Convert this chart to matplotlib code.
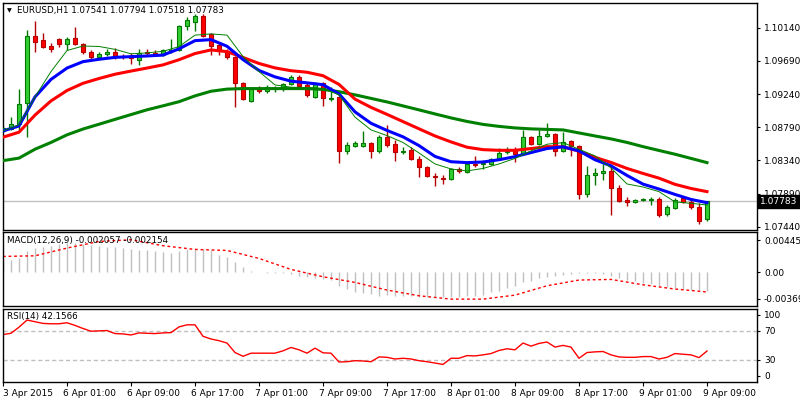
import numpy as np
import pandas as pd
import matplotlib
matplotlib.use("Agg")
import matplotlib.pyplot as plt
import matplotlib.transforms as mtransforms

# EURUSD H1 candles, 3 Apr 17:00 .. 9 Apr 09:00
open_ = [1.08740, 1.08768, 1.08836, 1.09121, 1.10031, 1.09977, 1.09895, 1.09990, 1.09923, 1.10004,
         1.09923, 1.09814, 1.09746, 1.09787, 1.09814, 1.09760, 1.09746, 1.09705, 1.09814, 1.09800,
         1.09773, 1.09827, 1.09841, 1.10167, 1.10222, 1.10303, 1.10058, 1.09909, 1.09827, 1.09746,
         1.09393, 1.09148, 1.09325, 1.09284, 1.09311, 1.09311, 1.09379, 1.09474, 1.09365, 1.09202,
         1.09393, 1.09175, 1.09202, 1.08469, 1.08537, 1.08537, 1.08577, 1.08469, 1.08659, 1.08564,
         1.08455, 1.08482, 1.08360, 1.08251, 1.08129, 1.08102, 1.08088, 1.08224, 1.08183, 1.08292,
         1.08292, 1.08292, 1.08360, 1.08455, 1.08482, 1.08428, 1.08659, 1.08564, 1.08672, 1.08700,
         1.08469, 1.08605, 1.08537, 1.07884, 1.08143, 1.08170, 1.08197, 1.07966, 1.07803, 1.07776,
         1.07803, 1.07803, 1.07816, 1.07613, 1.07694, 1.07830, 1.07776, 1.07708, 1.07541]
high = [1.08808, 1.08931, 1.09311, 1.10113, 1.10235, 1.10072, 1.09936, 1.10004, 1.10018, 1.10154,
        1.09936, 1.09841, 1.09814, 1.09855, 1.09868, 1.09787, 1.09800, 1.09855, 1.09855, 1.09841,
        1.09855, 1.09990, 1.10181, 1.10289, 1.10330, 1.10330, 1.10072, 1.09936, 1.09855, 1.09760,
        1.09406, 1.09338, 1.09352, 1.09365, 1.09352, 1.09393, 1.09501, 1.09501, 1.09393, 1.09406,
        1.09406, 1.09338, 1.09216, 1.08591, 1.08605, 1.08740, 1.08591, 1.08686, 1.08822, 1.08618,
        1.08523, 1.08523, 1.08401, 1.08265, 1.08170, 1.08143, 1.08238, 1.08251, 1.08333, 1.08401,
        1.08346, 1.08374, 1.08509, 1.08523, 1.08523, 1.08754, 1.08672, 1.08754, 1.08849, 1.08713,
        1.08727, 1.08618, 1.08550, 1.08265, 1.08238, 1.08292, 1.08251, 1.08007, 1.07844, 1.07816,
        1.07830, 1.07844, 1.07844, 1.07735, 1.07830, 1.07857, 1.07803, 1.07762, 1.07794]
low = [1.08727, 1.08754, 1.08754, 1.08659, 1.09814, 1.09868, 1.09814, 1.09882, 1.09841, 1.09909,
       1.09787, 1.09692, 1.09719, 1.09760, 1.09719, 1.09719, 1.09651, 1.09637, 1.09773, 1.09760,
       1.09760, 1.09800, 1.09827, 1.10113, 1.10099, 1.10018, 1.09773, 1.09773, 1.09719, 1.09067,
       1.09162, 1.09134, 1.09257, 1.09257, 1.09270, 1.09284, 1.09365, 1.09338, 1.09202, 1.09189,
       1.09080, 1.09148, 1.08306, 1.08428, 1.08523, 1.08523, 1.08374, 1.08441, 1.08523, 1.08333,
       1.08428, 1.08346, 1.08115, 1.08115, 1.07993, 1.08020, 1.08075, 1.08170, 1.08170, 1.08251,
       1.08224, 1.08278, 1.08346, 1.08428, 1.08319, 1.08414, 1.08550, 1.08550, 1.08659, 1.08401,
       1.08455, 1.08401, 1.07816, 1.07844, 1.08007, 1.08075, 1.07599, 1.07776, 1.07721, 1.07762,
       1.07789, 1.07735, 1.07572, 1.07585, 1.07681, 1.07762, 1.07681, 1.07477, 1.07518]
close = [1.08781, 1.08836, 1.09107, 1.10031, 1.09950, 1.09882, 1.09855, 1.09923, 1.09990, 1.09923,
         1.09814, 1.09746, 1.09787, 1.09814, 1.09746, 1.09746, 1.09732, 1.09800, 1.09800, 1.09773,
         1.09841, 1.09841, 1.10167, 1.10249, 1.10303, 1.10031, 1.09895, 1.09827, 1.09746, 1.09393,
         1.09175, 1.09325, 1.09284, 1.09338, 1.09325, 1.09379, 1.09474, 1.09352, 1.09230, 1.09393,
         1.09189, 1.09189, 1.08469, 1.08550, 1.08577, 1.08577, 1.08469, 1.08659, 1.08550, 1.08455,
         1.08469, 1.08360, 1.08251, 1.08129, 1.08115, 1.08088, 1.08224, 1.08197, 1.08292, 1.08278,
         1.08306, 1.08360, 1.08441, 1.08469, 1.08428, 1.08659, 1.08564, 1.08672, 1.08700, 1.08469,
         1.08591, 1.08537, 1.07884, 1.08143, 1.08170, 1.08197, 1.07966, 1.07789, 1.07776, 1.07803,
         1.07816, 1.07816, 1.07599, 1.07708, 1.07803, 1.07776, 1.07708, 1.07518, 1.07783]

# moving averages, read every 2nd bar
ma_step = 2
ema_fast = [1.08740, 1.08808, 1.09202, 1.09440, 1.09594, 1.09681, 1.09713, 1.09739, 1.09749, 1.09758,
            1.09770, 1.09855, 1.09966, 1.09980, 1.09890, 1.09709, 1.09561, 1.09474, 1.09416, 1.09393,
            1.09368, 1.09243, 1.08999, 1.08844, 1.08747, 1.08660, 1.08541, 1.08394, 1.08322, 1.08310,
            1.08318, 1.08349, 1.08391, 1.08446, 1.08501, 1.08524, 1.08469, 1.08349, 1.08266, 1.08136,
            1.08018, 1.07951, 1.07878, 1.07810, 1.07766]
ema_mid = [1.08655, 1.08723, 1.08955, 1.09148, 1.09289, 1.09387, 1.09452, 1.09510, 1.09553, 1.09594,
           1.09637, 1.09707, 1.09791, 1.09840, 1.09817, 1.09738, 1.09656, 1.09596, 1.09558, 1.09537,
           1.09490, 1.09372, 1.09172, 1.09060, 1.08965, 1.08867, 1.08769, 1.08672, 1.08591, 1.08519,
           1.08486, 1.08477, 1.08477, 1.08501, 1.08527, 1.08524, 1.08466, 1.08382, 1.08312, 1.08231,
           1.08163, 1.08099, 1.08015, 1.07959, 1.07916]
ema_slow = [1.08337, 1.08371, 1.08492, 1.08584, 1.08687, 1.08766, 1.08831, 1.08897, 1.08962, 1.09027,
            1.09081, 1.09137, 1.09216, 1.09279, 1.09308, 1.09315, 1.09315, 1.09315, 1.09315, 1.09315,
            1.09304, 1.09273, 1.09230, 1.09182, 1.09134, 1.09080, 1.09026, 1.08971, 1.08917, 1.08869,
            1.08829, 1.08802, 1.08781, 1.08768, 1.08761, 1.08754, 1.08713, 1.08672, 1.08632, 1.08584,
            1.08527, 1.08475, 1.08424, 1.08367, 1.08310]
sma_fast = [1.08740, 1.08822, 1.09202, 1.09546, 1.09832, 1.09893, 1.09887, 1.09848, 1.09787, 1.09800,
            1.09821, 1.09885, 1.10041, 1.10058, 1.10041, 1.09750, 1.09546, 1.09365, 1.09334, 1.09329,
            1.09315, 1.09230, 1.08927, 1.08754, 1.08677, 1.08583, 1.08441, 1.08292, 1.08224, 1.08197,
            1.08231, 1.08292, 1.08367, 1.08469, 1.08560, 1.08581, 1.08492, 1.08401, 1.08238, 1.08020,
            1.07979, 1.07916, 1.07776, 1.07757, 1.07735]

macd_main = [0.00136, 0.00136, 0.00158, 0.00238, 0.00268, 0.00282, 0.00294, 0.00312, 0.00319, 0.00319,
             0.00312, 0.00305, 0.00294, 0.00282, 0.00275, 0.00268, 0.00257, 0.00246, 0.00246, 0.00238,
             0.00220, 0.00217, 0.00238, 0.00257, 0.00268, 0.00257, 0.00246, 0.00194, 0.00165, 0.00110,
             0.00055, 0.00018, 0.00007, -0.00007, -0.00011, -0.00011, -0.00018, -0.00044, -0.00055, -0.00062,
             -0.00073, -0.00084, -0.00147, -0.00183, -0.00220, -0.00227, -0.00238, -0.00257, -0.00249, -0.00257,
             -0.00257, -0.00257, -0.00268, -0.00268, -0.00275, -0.00275, -0.00275, -0.00268, -0.00257, -0.00257,
             -0.00246, -0.00220, -0.00202, -0.00172, -0.00147, -0.00110, -0.00092, -0.00062, -0.00048, -0.00037,
             -0.00026, -0.00018, -0.00011, -0.00004, -0.00007, -0.00018, -0.00037, -0.00062, -0.00084, -0.00099,
             -0.00121, -0.00128, -0.00147, -0.00165, -0.00172, -0.00183, -0.00190, -0.00198, -0.002057]
# signal line read every 4th bar
signal_step = 4
macd_signal = [0.00176, 0.00183, 0.00268, 0.00341, 0.00360, 0.00294, 0.00253, 0.00242, 0.00154, 0.00033,
               -0.00048, -0.00110, -0.00194, -0.00257, -0.00294, -0.00294, -0.00250, -0.00147, -0.00084,
               -0.00077, -0.00136, -0.00183, -0.002154]
macd_range = (-0.003697, 0.00445)

rsi = [64.5, 66.3, 74.6, 84.3, 82.0, 79.7, 79.2, 79.2, 80.6, 77.0,
       72.8, 69.1, 69.6, 70.0, 65.9, 65.4, 64.0, 66.8, 66.3, 65.9,
       66.8, 67.2, 75.0, 77.8, 77.8, 62.2, 58.5, 56.2, 53.0, 40.1,
       35.0, 39.2, 39.2, 39.2, 39.2, 42.4, 47.0, 43.8, 39.2, 46.1,
       39.7, 39.2, 27.2, 27.6, 29.0, 28.6, 27.6, 34.1, 33.6, 31.3,
       32.3, 31.3, 29.0, 27.6, 25.8, 23.9, 32.3, 32.3, 35.9, 35.5,
       36.9, 38.7, 42.9, 45.2, 43.8, 53.0, 48.8, 52.5, 54.4, 47.5,
       49.8, 47.5, 32.3, 40.1, 41.0, 41.5, 36.9, 34.1, 33.6, 33.6,
       34.6, 34.6, 31.3, 33.6, 38.7, 37.8, 36.9, 33.2, 42.1566]
rsi_levels = [70, 30]

price_ticks = [1.10140, 1.09690, 1.09240, 1.08790, 1.08340, 1.07890, 1.07440]
price_range = (1.07395, 1.10484)

bar_times = (list(pd.date_range("2015-04-03 17:00", periods=7, freq="h"))
             + list(pd.date_range("2015-04-06 00:00", periods=82, freq="h")))

open_, high, low, close = map(np.array, (open_, high, low, close))
macd_main = np.array(macd_main)
x = np.arange(len(close))
x_ma = np.arange(0, len(close), ma_step)
x_sig = np.arange(0, len(close), signal_step)

plt.rcParams['font.family'] = ['DejaVu Sans']
FS = 6.5
W, H = 800, 400
fig = plt.figure(figsize=(8, 4), dpi=100)


def px_axes(left, top, right, bottom):
    return fig.add_axes([left / W, 1 - bottom / H, (right - left) / W, (bottom - top) / H])


ax = px_axes(2.5, 2.5, 757, 230)
ax_macd = px_axes(2.5, 232, 757, 306)
ax_rsi = px_axes(2.5, 308.5, 757, 382)

xlim = (-0.0625, -0.0625 + 754.5 / 8)
for a in (ax, ax_macd, ax_rsi):
    a.set_xlim(*xlim)
    a.set_xticks([])
    a.yaxis.tick_right()
    a.tick_params(axis='y', direction='out', length=2.5, width=0.8, pad=2.5, labelsize=FS)
    for s in a.spines.values():
        s.set_linewidth(1)
        s.set_color('black')

# --- price panel
up = close >= open_
body_lo = np.minimum(open_, close)
body_h = np.maximum(np.abs(close - open_), 0.000015)
ax.vlines(x[up], low[up], high[up], color='#007800', lw=1, zorder=2)
ax.vlines(x[~up], low[~up], high[~up], color='#b40000', lw=1, zorder=2)
ax.bar(x[up], body_h[up], bottom=body_lo[up], width=0.58, color='#32cd32',
       edgecolor='#007800', lw=0.8, zorder=3)
ax.bar(x[~up], body_h[~up], bottom=body_lo[~up], width=0.58, color='#ff0000',
       edgecolor='#b40000', lw=0.8, zorder=3)

ax.plot(x_ma, ema_slow, color='#008000', lw=2.2, zorder=4)
ax.plot(x_ma, ema_mid, color='#ff0000', lw=2.2, zorder=4)
ax.plot(x_ma, ema_fast, color='#0000ff', lw=2.2, zorder=5)
ax.plot(x_ma, sma_fast, color='#008000', lw=0.7, zorder=5)

ax.axhline(close[-1], color='#c0c0c0', lw=1, zorder=1)
ax.set_ylim(*price_range)
ax.set_yticks(price_ticks)
ax.set_yticklabels([f"{v:.5f}" for v in price_ticks])
tr = mtransforms.blended_transform_factory(ax.transAxes, ax.transData)
ax.text(1.004, close[-1], f"{close[-1]:.5f}", transform=tr, ha='left', va='center',
        color='white', fontsize=FS, zorder=10, clip_on=False,
        bbox=dict(boxstyle='square,pad=0.25', fc='black', ec='black'))

fig.text(7 / W, 1 - 11 / H, "\u25bc", fontsize=4.5, va='center', ha='left')
fig.text(17 / W, 1 - 11 / H,
         f"EURUSD,H1 {open_[-1]:.5f} {high[-1]:.5f} {low[-1]:.5f} {close[-1]:.5f}",
         fontsize=6.3, va='center', ha='left')

# --- MACD panel
ax_macd.vlines(x, 0, macd_main, color='#c0c0c0', lw=1)
ax_macd.plot(x_sig, macd_signal, color='#ff0000', lw=1, ls=(0, (2, 2)))
ax_macd.set_ylim(*macd_range)
span = macd_range[1] - macd_range[0]
ax_macd.set_yticks([macd_range[1] - span * 8 / 74, 0, macd_range[0] + span * 7 / 74])
ax_macd.set_yticklabels([f"{macd_range[1]:.5f}", "0.00", f"{macd_range[0]:.6f}"])
fig.text(7 / W, 1 - 241 / H,
         f"MACD(12,26,9) {macd_main[-1]:.6f} {macd_signal[-1]:.6f}",
         fontsize=6.3, va='center', ha='left')

# --- RSI panel
for lvl in rsi_levels:
    ax_rsi.axhline(lvl, color='#c0c0c0', lw=1, ls=(0, (3, 2)))
ax_rsi.plot(x, rsi, color='#ff0000', lw=1)
ax_rsi.set_ylim(0, 100)
ax_rsi.set_yticks([100 - 6.5 / 0.735, 70, 30, 6.3 / 0.735])
ax_rsi.set_yticklabels(["100", "70", "30", "0"])
fig.text(7 / W, 1 - 317 / H, f"RSI(14) {rsi[-1]:.4f}", fontsize=6.3, va='center', ha='left')

# time axis
tick_idx = [i for i, t in enumerate(bar_times) if t.hour in (1, 9, 17)]
tick_lbl = [f"{bar_times[i].day} {bar_times[i]:%b} {bar_times[i]:%H:%M}" for i in tick_idx]
tick_lbl[0] = f"{bar_times[0].day} {bar_times[0]:%b %Y}"
ax_rsi.set_xticks(tick_idx)
ax_rsi.set_xticklabels(tick_lbl, ha='left')
ax_rsi.tick_params(axis='x', direction='out', length=3, width=0.8, pad=2, labelsize=FS)
shift = mtransforms.ScaledTranslation(-4 / 100, 0, fig.dpi_scale_trans)
for lab in ax_rsi.get_xticklabels()[1:]:
    lab.set_transform(lab.get_transform() + shift)

fig.savefig("out.png", dpi=100)
